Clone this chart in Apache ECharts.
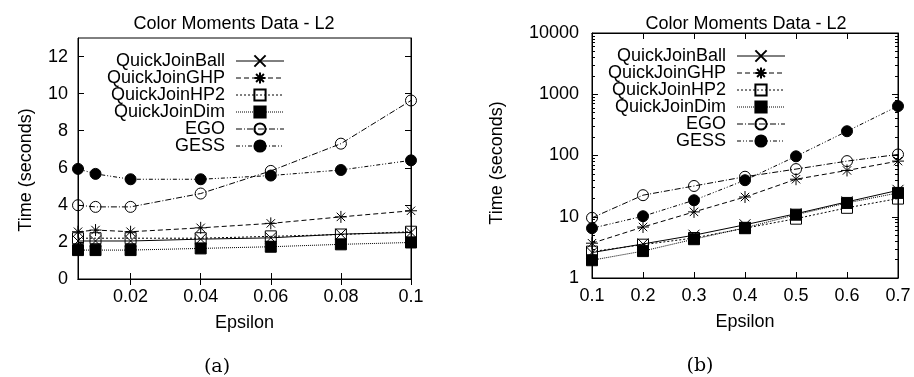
<!DOCTYPE html>
<html>
<head>
<meta charset="utf-8">
<script src="https://cdn.jsdelivr.net/npm/echarts@6/dist/echarts.min.js"></script>
<style>
  html, body { margin: 0; padding: 0; background: #fff; }
  #main { width: 914px; height: 377px; }
</style>
</head>
<body>
<div id="main"></div>
<script>
var chart = echarts.init(document.getElementById('main'));

// plot (a): linear scale
var epsA = [0.005, 0.01, 0.02, 0.04, 0.06, 0.08, 0.1];
var ballA = [2.05, 2.05, 2.05, 2.15, 2.22, 2.42, 2.51];
var ghpA = [2.55, 2.64, 2.55, 2.76, 3.0, 3.35, 3.68];
var hp2A = [2.2, 2.2, 2.2, 2.2, 2.3, 2.4, 2.55];
var dimA = [1.56, 1.56, 1.56, 1.65, 1.74, 1.87, 1.97];
var egoA = [3.98, 3.89, 3.89, 4.61, 5.83, 7.3, 9.63];
var gessA = [5.94, 5.67, 5.38, 5.38, 5.58, 5.88, 6.4];

// plot (b): log scale
var epsB = [0.1, 0.2, 0.3, 0.4, 0.5, 0.6, 0.7];
var ballB = [2.6, 3.6, 5.0, 7.4, 11.2, 17.5, 27];
var ghpB = [3.7, 6.8, 12, 21, 41, 57, 81];
var hp2B = [2.7, 3.5, 4.5, 6.5, 9.3, 14, 19.8];
var dimB = [1.95, 2.75, 4.3, 6.6, 10.8, 16.8, 24.5];
var egoB = [9.6, 22.5, 31.8, 45, 60, 81, 104];
var gessB = [6.5, 10.2, 18.6, 39.5, 97, 249, 640];

var names = ['QuickJoinBall', 'QuickJoinGHP', 'QuickJoinHP2', 'QuickJoinDim', 'EGO', 'GESS'];
var ticksA = [0.02, 0.04, 0.06, 0.08, 0.1];
var yTicksA = [0, 2, 4, 6, 8, 10, 12];
var minorB = [];
[1, 10, 100, 1000].forEach(function (d) {
  for (var k = 2; k <= 9; k++) minorB.push(d * k);
});

var FONT = 'Liberation Sans';
var FS = 18;
var styles = [
  { symbol: 'path://M0,0L10,10M10,0L0,10', size: 11, fill: 'none', dash: 'solid' },
  { symbol: 'path://M0,5L10,5M5,0L5,10M1.5,1.5L8.5,8.5M8.5,1.5L1.5,8.5', size: 12, fill: 'none', dash: [5, 3] },
  { symbol: 'rect', size: 11, fill: 'none', dash: [2, 2] },
  { symbol: 'rect', size: 11, fill: '#000', dash: [1, 1] },
  { symbol: 'circle', size: 11, fill: 'none', dash: [6, 2, 1, 2] },
  { symbol: 'circle', size: 11, fill: '#000', dash: [4, 2, 1, 2, 1, 2] }
];

function makeSeries(xs, lists, xi, yi) {
  return lists.map(function (vals, i) {
    var s = styles[i];
    return {
      name: names[i],
      type: 'line',
      xAxisIndex: xi,
      yAxisIndex: yi,
      data: xs.map(function (x, j) { return [x, vals[j]]; }),
      symbol: s.symbol,
      symbolSize: s.size,
      showAllSymbol: true,
      animation: false,
      itemStyle: { color: s.fill, borderColor: '#000', borderWidth: 1 },
      lineStyle: { color: '#000', width: 1, type: s.dash },
      emphasis: { disabled: true }
    };
  });
}

var labelStyle = { fontFamily: FONT, fontSize: FS, color: '#000' };
var lineBlack = { show: true, lineStyle: { color: '#000', width: 1 } };

function legendFor(left, top) {
  return {
    orient: 'vertical',
    left: left,
    top: top,
    align: 'right',
    itemWidth: 48,
    itemHeight: 14,
    itemGap: -1,
    selectedMode: false,
    lineStyle: { width: 1 },
    data: names.map(function (n) { return { name: n }; }),
    textStyle: {
      fontFamily: FONT, fontSize: FS, color: '#000',
      width: 124, align: 'right', lineHeight: 17, padding: [0, 6, 0, 0]
    }
  };
}

function logLabel(v) { return String(Math.round(v)); }

var option = {
  backgroundColor: '#fff',
  animation: false,
  title: [
    { text: 'Color Moments Data - L2', left: 229, top: 10, textAlign: 'center',
      textStyle: { fontFamily: FONT, fontSize: FS, fontWeight: 'normal', color: '#000' } },
    { text: 'Color Moments Data - L2', left: 741, top: 10, textAlign: 'center',
      textStyle: { fontFamily: FONT, fontSize: FS, fontWeight: 'normal', color: '#000' } }
  ],
  legend: [legendFor(96, 47), legendFor(597, 42)],
  grid: [
    { left: 78, top: 38, width: 333, height: 241, show: true, borderColor: '#000', borderWidth: 1 },
    { left: 592, top: 33, width: 306, height: 245, show: true, borderColor: '#000', borderWidth: 1 }
  ],
  xAxis: [
    { type: 'value', gridIndex: 0, min: 0.005, max: 0.1, position: 'bottom',
      name: 'Epsilon', nameLocation: 'middle', nameGap: 35, nameTextStyle: labelStyle,
      axisLine: lineBlack, splitLine: { show: false },
      axisTick: { show: true, inside: true, length: 6, customValues: ticksA, lineStyle: { color: '#000' } },
      axisLabel: { customValues: ticksA, margin: 9, fontFamily: FONT, fontSize: FS, color: '#000',
        formatter: function (v) { return String(+v.toFixed(3)); } } },
    { type: 'value', gridIndex: 0, min: 0.005, max: 0.1, position: 'top',
      axisLine: lineBlack, splitLine: { show: false },
      axisTick: { show: true, inside: true, length: 6, customValues: ticksA, lineStyle: { color: '#000' } },
      axisLabel: { show: false } },
    { type: 'value', gridIndex: 1, min: 0.1, max: 0.7, interval: 0.1, position: 'bottom',
      name: 'Epsilon', nameLocation: 'middle', nameGap: 35, nameTextStyle: labelStyle,
      axisLine: lineBlack, splitLine: { show: false },
      axisTick: { show: true, inside: true, length: 6, lineStyle: { color: '#000' } },
      axisLabel: { margin: 9, fontFamily: FONT, fontSize: FS, color: '#000',
        formatter: function (v) { return (+v).toFixed(1); } } },
    { type: 'value', gridIndex: 1, min: 0.1, max: 0.7, interval: 0.1, position: 'top',
      axisLine: lineBlack, splitLine: { show: false },
      axisTick: { show: true, inside: true, length: 6, lineStyle: { color: '#000' } },
      axisLabel: { show: false } }
  ],
  yAxis: [
    { type: 'value', gridIndex: 0, min: 0, max: 13, position: 'left',
      axisLine: lineBlack, splitLine: { show: false },
      axisTick: { show: true, inside: true, length: 6, customValues: yTicksA, lineStyle: { color: '#000' } },
      axisLabel: { customValues: yTicksA, margin: 10, fontFamily: FONT, fontSize: FS, color: '#000' } },
    { type: 'value', gridIndex: 0, min: 0, max: 13, position: 'right',
      axisLine: lineBlack, splitLine: { show: false },
      axisTick: { show: true, inside: true, length: 6, customValues: yTicksA, lineStyle: { color: '#000' } },
      axisLabel: { show: false } },
    { type: 'log', logBase: 10, gridIndex: 1, min: 1, max: 10000, position: 'left',
      axisLine: lineBlack, splitLine: { show: false },
      axisTick: { show: true, inside: true, length: 6, lineStyle: { color: '#000' } },
      axisLabel: { margin: 13, fontFamily: FONT, fontSize: FS, color: '#000', formatter: logLabel } },
    { type: 'log', logBase: 10, gridIndex: 1, min: 1, max: 10000, position: 'left',
      axisLine: { show: false }, splitLine: { show: false },
      axisTick: { show: true, inside: true, length: 3, customValues: minorB, lineStyle: { color: '#000' } },
      axisLabel: { show: false } },
    { type: 'log', logBase: 10, gridIndex: 1, min: 1, max: 10000, position: 'right',
      axisLine: lineBlack, splitLine: { show: false },
      axisTick: { show: true, inside: true, length: 6, lineStyle: { color: '#000' } },
      axisLabel: { show: false } },
    { type: 'log', logBase: 10, gridIndex: 1, min: 1, max: 10000, position: 'right',
      axisLine: { show: false }, splitLine: { show: false },
      axisTick: { show: true, inside: true, length: 3, customValues: minorB, lineStyle: { color: '#000' } },
      axisLabel: { show: false } }
  ],
  graphic: [
    { type: 'text', x: 26, y: 170, rotation: Math.PI / 2,
      style: { text: 'Time (seconds)', fontFamily: FONT, fontSize: FS, fill: '#000', align: 'center', verticalAlign: 'middle' } },
    { type: 'text', x: 497, y: 163, rotation: Math.PI / 2,
      style: { text: 'Time (seconds)', fontFamily: FONT, fontSize: FS, fill: '#000', align: 'center', verticalAlign: 'middle' } },
    { type: 'text', x: 217, y: 367,
      style: { text: '(a)', fontFamily: 'DejaVu Serif', fontSize: 19, fill: '#000', align: 'center', verticalAlign: 'middle' } },
    { type: 'text', x: 700, y: 366,
      style: { text: '(b)', fontFamily: 'DejaVu Serif', fontSize: 19, fill: '#000', align: 'center', verticalAlign: 'middle' } }
  ],
  series: makeSeries(epsA, [ballA, ghpA, hp2A, dimA, egoA, gessA], 0, 0)
    .concat(makeSeries(epsB, [ballB, ghpB, hp2B, dimB, egoB, gessB], 2, 2))
};

chart.setOption(option);
</script>
</body>
</html>
